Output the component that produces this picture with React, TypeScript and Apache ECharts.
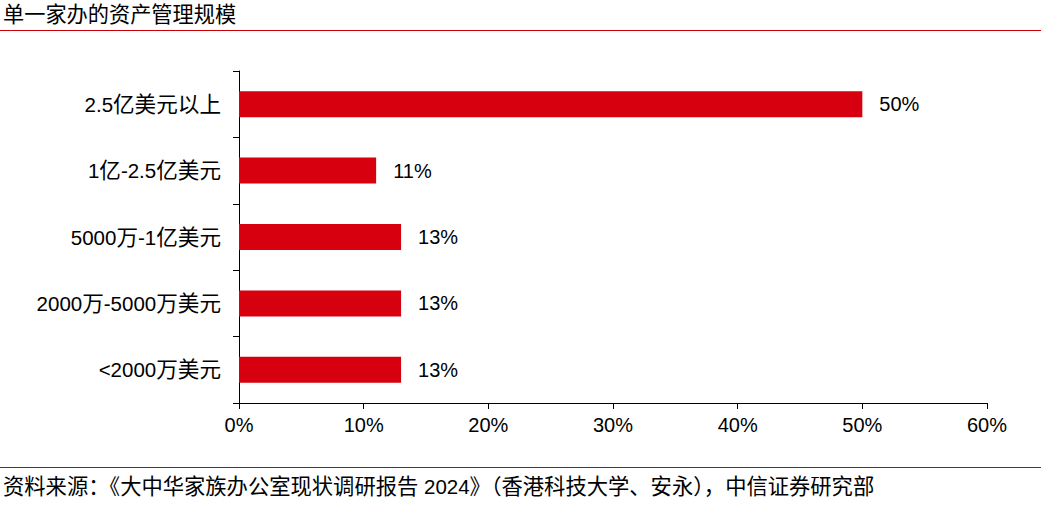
import React, { useEffect, useRef } from "react";
import * as echarts from "echarts";

const categories = ["2.5亿美元以上", "1亿-2.5亿美元", "5000万-1亿美元", "2000万-5000万美元", "<2000万美元"];
const values = [50, 11, 13, 13, 13];
const xTicks = [0, 10, 20, 30, 40, 50, 60];
const titleText = "单一家办的资产管理规模";
const sourceText = "资料来源：《大中华家族办公室现状调研报告 2024》（香港科技大学、安永），中信证券研究部";

const FONT = '"Liberation Sans", Arial, "Noto Sans CJK SC", sans-serif';
const RED = "#D7000F";

const isCJK = (ch: string) => /[\u3000-\u303f\u4e00-\u9fff\uff00-\uffef]/.test(ch);

function toRich(s: string) {
  let out = "";
  let cur = "";
  let curType = "";
  for (const ch of s) {
    const t = isCJK(ch) ? "c" : "a";
    if (t !== curType && cur) {
      out += `{${curType}|${cur}}`;
      cur = "";
    }
    curType = t;
    cur += ch;
  }
  if (cur) out += `{${curType}|${cur}}`;
  return out;
}

export default function App() {
  const ref = useRef<HTMLDivElement>(null);
  useEffect(() => {
    document.body.style.margin = "0";
    if (!ref.current) return;
    const chart = echarts.init(ref.current, null, { renderer: "svg" });
    chart.setOption({
      animation: false,
      backgroundColor: "#fff",
      textStyle: { fontFamily: FONT },
      grid: { left: 239, right: 54, top: 71, bottom: 102, containLabel: false },
      xAxis: {
        type: "value",
        min: xTicks[0],
        max: xTicks[xTicks.length - 1],
        interval: 10,
        axisLine: { show: true, lineStyle: { color: "#000", width: 1 } },
        axisTick: { show: true, length: 6, lineStyle: { color: "#000" } },
        splitLine: { show: false },
        axisLabel: {
          formatter: (v: number) => v + "%",
          color: "#000",
          fontSize: 20,
          fontFamily: FONT,
          margin: 12,
        },
      },
      yAxis: {
        type: "category",
        data: categories,
        inverse: true,
        axisLine: { show: true, lineStyle: { color: "#000", width: 1 } },
        axisTick: { show: true, length: 6, lineStyle: { color: "#000" } },
        axisLabel: {
          color: "#000",
          fontSize: 20.5,
          fontFamily: FONT,
          margin: 18,
          formatter: (v: string) => toRich(v),
          rich: {
            a: { fontSize: 20.5, fontFamily: FONT, color: "#000" },
            c: { fontSize: 21.6, fontFamily: FONT, color: "#000" },
          },
        },
      },
      series: [
        {
          type: "bar",
          data: values,
          barWidth: 26,
          itemStyle: { color: RED },
          label: {
            show: true,
            position: "right",
            distance: 17,
            formatter: (p: any) => p.value + "%",
            color: "#000",
            fontSize: 20,
            fontFamily: FONT,
          },
        },
      ],
      graphic: [
        {
          type: "text",
          left: 3,
          top: 4,
          style: { text: titleText, fontSize: 21.2, fontFamily: FONT, fill: "#000" },
        },
        {
          type: "line",
          shape: { x1: 0, y1: 30.5, x2: 1041, y2: 30.5 },
          style: { stroke: "#C8000A", lineWidth: 1.2 },
        },
        {
          type: "line",
          shape: { x1: 0, y1: 467.5, x2: 1041, y2: 467.5 },
          style: { stroke: "#C8000A", lineWidth: 1.2 },
        },
        {
          type: "text",
          left: 3,
          top: 476,
          style: {
            text: toRich(sourceText),
            fill: "#000",
            rich: {
              a: { fontSize: 20.5, fontFamily: FONT, fill: "#000" },
              c: { fontSize: 21.3, fontFamily: FONT, fill: "#000" },
            },
          },
        },
      ],
    });
    return () => chart.dispose();
  }, []);
  return <div ref={ref} style={{ width: 1041, height: 505 }} />;
}
